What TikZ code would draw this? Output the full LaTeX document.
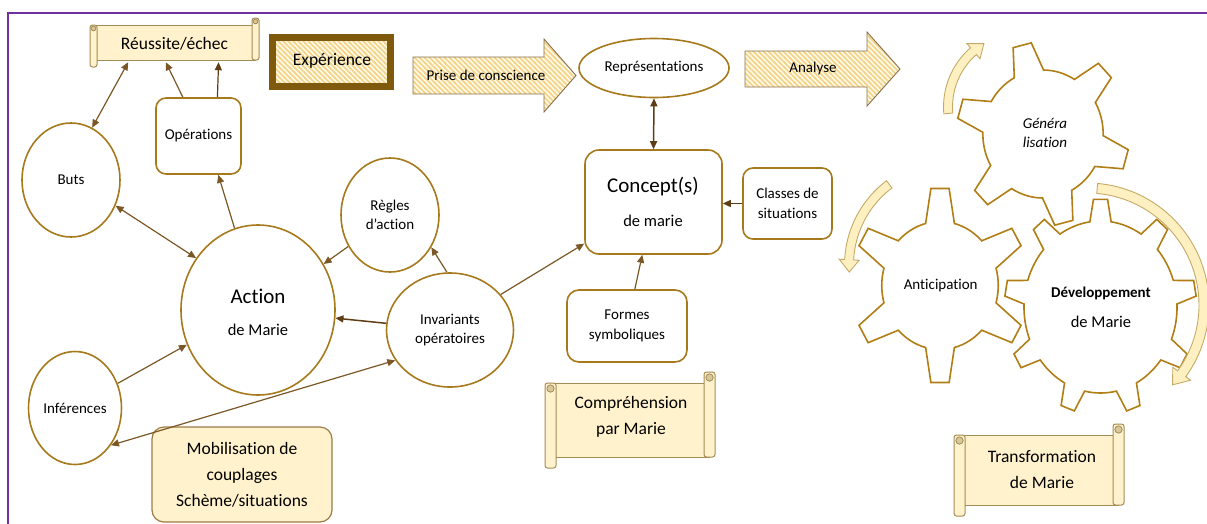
\documentclass[tikz,border=0pt]{standalone}
\usepackage{fontspec}
\setmainfont{Carlito}[Ligatures={TeX,NoCommon}]
\usetikzlibrary{arrows.meta,patterns.meta,shapes.geometric}

\definecolor{framec}{HTML}{7030A0}
\definecolor{nodeline}{HTML}{A67A1C}
\definecolor{arrowc}{HTML}{7A5724}
\definecolor{arrowd}{HTML}{5E3C14}
\definecolor{paleY}{HTML}{FFF2CC}
\definecolor{scrollline}{HTML}{A38C55}
\definecolor{curlc}{HTML}{D8C79A}
\definecolor{hatchc}{HTML}{F3D488}
\definecolor{hatchbg}{HTML}{FFFAEA}
\definecolor{expline}{HTML}{805A0C}
\definecolor{blockline}{HTML}{8A7050}
\definecolor{gearline}{HTML}{B07E14}
\definecolor{curvefill}{HTML}{FFF0C2}
\definecolor{curveline}{HTML}{C4AA66}
\definecolor{mobline}{HTML}{9C7B45}

\tikzdeclarepattern{
  name=hatchlines,
  type=uncolored,
  bounding box={(-1pt,-1pt) and (6pt,6pt)},
  tile size={(5pt,5pt)},
  code={\draw[line width=1.5pt] (-1pt,6pt) -- (6pt,-1pt);}
}

\tikzset{
  nd/.style={draw=nodeline, line width=1.6pt, inner sep=0pt},
  ell/.style={nd, ellipse},
  rbox/.style={nd, rectangle, rounded corners=#1},
  rbox/.default=10pt,
  fsS/.style={font=\fontsize{15}{19.5}\selectfont, align=center},
  fsM/.style={font=\fontsize{16.5}{20}\selectfont},
  fsL/.style={font=\fontsize{17.5}{26}\selectfont, align=center},
  fsXL/.style={font=\fontsize{21}{25}\selectfont},
  con/.style={draw=arrowc, line width=1.2pt, -{Triangle[length=8pt,width=7pt]}},
  bicon/.style={draw=arrowc, line width=1.2pt, {Triangle[length=8pt,width=7pt]}-{Triangle[length=8pt,width=7pt]}},
  hatched/.style={fill=hatchbg, postaction={pattern=hatchlines, pattern color=hatchc}},
  blockarrow/.style={draw=blockline, line width=0.9pt},
  gearstyle/.style={draw=gearline, line width=1.6pt, line join=miter},
  curvestyle/.style={fill=curvefill, draw=curveline, line width=0.9pt},
  scrollbody/.style={fill=paleY, draw=scrollline, line width=1pt}
}

% horizontal scroll: L T R B d
\newcommand\hscroll[5]{%
  \draw[scrollbody] ({#1+#5/2},{#2+#5}) rectangle ({#3-#5/2},{#4-#5});
  \draw[scrollbody, rounded corners=2.5pt] (#1,{#2+#5}) rectangle ({#1+#5},#4);
  \draw[scrollbody, rounded corners=2.5pt] ({#3-#5},#2) rectangle (#3,{#4-#5});
  \draw[scrollline, fill=curlc, line width=0.8pt] ({#1+#5/2},{#2+#5+#5/2}) circle[radius={#5/3}];
  \draw[scrollline, fill=curlc, line width=0.8pt] ({#3-#5/2},{#2+#5/2}) circle[radius={#5/3}];
}

% gear: cx cy N Ro Ri offset tiphalf basehalf xscale
\newcommand\drawgear[9]{%
 \begin{scope}[shift={(#1,#2)},yscale=-1,xscale=#9]
  \pgfmathsetmacro\gstep{360/#3}
  \draw[gearstyle] ({#6-#8}:#5)
   \foreach \k in {1,...,#3}{
     -- ({#6+(\k-1)*\gstep-#7}:#4) -- ({#6+(\k-1)*\gstep+#7}:#4) -- ({#6+(\k-1)*\gstep+#8}:#5)
     arc[start angle={#6+(\k-1)*\gstep+#8}, end angle={#6+\k*\gstep-#8}, radius=#5]
   } -- cycle;
 \end{scope}}

% curved arrow: cx cy r a1 ah a2 w hw
\newcommand\curvearrow[8]{%
 \begin{scope}[shift={(#1,#2)},yscale=-1]
  \draw[curvestyle] ({#4}:{#3+#7}) arc[start angle=#4, end angle=#5, radius={#3+#7}]
    -- ({#5}:{#3+#8}) -- ({#6}:{#3}) -- ({#5}:{#3-#8}) -- ({#5}:{#3-#7})
    arc[start angle=#5, end angle=#4, radius={#3-#7}] -- cycle;
 \end{scope}}

\begin{document}
\begin{tikzpicture}[x=1pt,y=-1pt]
\useasboundingbox (0,0) rectangle (1207,523);

% frame
\draw[framec, line width=2pt] (8.3,524) -- (8.3,12.5) -- (1208,12.5);

% ---- scrolls ----
\hscroll{90}{18}{259}{67}{7}
\node[fsL, minimum width=169pt, minimum height=37pt, inner sep=0pt] (reus) at (174.5,43.5) {Réussite/échec};

\hscroll{545}{372}{715}{468}{11}
\node[fsL] (compr) at (631,417) {Compréhension\\par Marie};

\hscroll{954}{424}{1124}{516}{11}
\node[fsL] (transf) at (1042,470) {Transformation\\de Marie};

% ---- Expérience ----
\path[hatched] (272.5,37.5) rectangle (390.5,86.5);
\draw[expline, line width=6.5pt] (272.5,37.5) rectangle (390.5,86.5);
\node[font=\fontsize{17.5}{21}\selectfont] (expe) at (332,61) {Expérience};

% ---- block arrows ----
\path[hatched] (413,57) -- (544,57) -- (544,39) -- (576,75.5) -- (544,112) -- (544,94) -- (413,94) -- cycle;
\draw[blockarrow] (413,57) -- (544,57) -- (544,39) -- (576,75.5) -- (544,112) -- (544,94) -- (413,94) -- cycle;
\node[fsS] (prise) at (486,75) {Prise de conscience};

\path[hatched] (745,51) -- (867,51) -- (867,32) -- (900,69) -- (867,106) -- (867,87) -- (745,87) -- cycle;
\draw[blockarrow] (745,51) -- (867,51) -- (867,32) -- (900,69) -- (867,106) -- (867,87) -- (745,87) -- cycle;
\node[fsS] (analyse) at (813,68) {Analyse};

% ---- nodes ----
\node[ell, minimum width=98pt, minimum height=114pt, fsS] (buts) at (71,180) {Buts};
\node[rbox=10pt, minimum width=85pt, minimum height=76pt, fsS] (ops) at (198.5,136) {Opérations};
\node[ell, minimum width=98pt, minimum height=114pt, fsS] (regles) at (390,215) {Règles\\d'action};
\node[ell, minimum width=154pt, minimum height=170pt] (action) at (258,310) {};
\node[fsXL] (actT) at (258,296) {Action};
\node[fsM] (actM) at (258,330) {de Marie};
\node[ell, minimum width=127pt, minimum height=114pt, fsS] (invar) at (450,330) {Invariants\\opératoires};
\node[ell, minimum width=93pt, minimum height=113pt, fsS] (infer) at (75,408) {Inférences};
\node[ell, minimum width=150pt, minimum height=59pt, fsS] (repr) at (654,68) {Représentations};
\node[rbox=14pt, minimum width=137pt, minimum height=104pt] (concept) at (653.5,202) {};
\node[fsXL] (concT) at (653,187) {Concept(s)};
\node[fsM] (concM) at (653,221) {de marie};
\node[rbox=10pt, minimum width=89pt, minimum height=71pt, fsS] (classes) at (787.5,203.5) {Classes de\\situations};
\node[rbox=12pt, minimum width=120pt, minimum height=72pt, fsS] (formes) at (627,326) {Formes\\symboliques};
\node[rbox=12pt, draw=mobline, fill=paleY, line width=1.2pt, minimum width=180pt, minimum height=95pt, fsL] (mobil) at (242,474.5) {Mobilisation de\\couplages\\Schème/situations};

% ---- connectors ----
\draw[bicon] (buts.68) -- (reus.202);
\draw[con] (ops.112) -- (reus.245);
\draw[con, draw=arrowd] (ops.64) -- (reus.337);
\draw[con] (action.106) -- (ops.297);
\draw[bicon] (buts.330) -- (action.140);
\draw[con] (regles.217) -- (action.35);
\draw[con] (invar.93) -- (regles.322);
\draw[con, draw=arrowd, line width=1.5pt] (invar.174) -- (action.354);
\draw[con] (invar.35) -- (concept.211);
\draw[con] (infer.30) -- (action.206);
\draw[bicon] (infer.314) -- (invar.209);
\draw[bicon, draw=arrowd, line width=1.5pt] (repr.south) -- (concept.north);
\draw[con, draw=arrowd, line width=1.5pt] (classes.west) -- (classes.west -| concept.east);
\draw[con] (formes.78) -- (concept.258);

% ---- gears ----
\drawgear{1043}{134}{6}{92}{64}{104}{6.2}{14.5}{0.94}
\drawgear{940}{285.5}{6}{97.5}{64}{90}{5.9}{14.3}{0.91}
\drawgear{1100.5}{307}{9}{108}{86}{90}{4.2}{8}{0.89}
\node[fsS, font=\fontsize{15}{19.5}\selectfont\itshape] (genT) at (1045,133) {Généra\\lisation};
\node[fsS] (antT) at (940.7,286) {Anticipation};
\node[font=\fontsize{15}{18}\selectfont\bfseries] (devT) at (1101,293) {Développement};
\node[fsM] (devM) at (1101,322) {de Marie};

% ---- curved arrows ----
\curvearrow{1022}{107}{74}{185}{131}{121}{4.5}{10}
\curvearrow{950}{265}{101}{127}{177}{184}{4.5}{10}
\curvearrow{1087}{305}{117}{85}{-36}{-43}{5}{11}

\end{tikzpicture}
\end{document}
